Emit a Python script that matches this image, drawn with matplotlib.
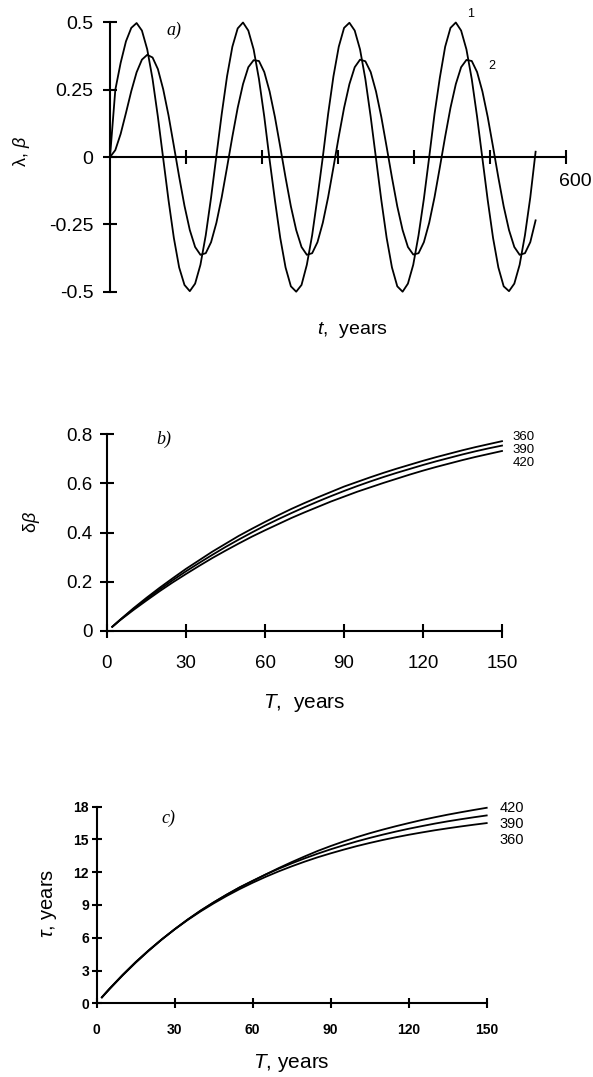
import numpy as np
import matplotlib.pyplot as plt

plt.rcParams['font.family'] = 'Liberation Sans'
plt.rcParams['axes.unicode_minus'] = False
plt.rcParams['mathtext.fontset'] = 'custom'
plt.rcParams['mathtext.it'] = 'Liberation Sans:italic'
plt.rcParams['mathtext.rm'] = 'Liberation Sans'

# ---- panel a: lambda (1) and beta (2) vs t, sampled every 7 years
t_a = np.arange(0, 561, 7)
lam = [0.0, 0.25, 0.35, 0.43, 0.48, 0.498, 0.47, 0.40, 0.29, 0.15,
       -0.005, -0.16, -0.30, -0.41, -0.475, -0.498, -0.47, -0.40, -0.29, -0.15,
       0.005, 0.16, 0.30, 0.41, 0.478, 0.50, 0.47, 0.40, 0.29, 0.15,
       -0.01, -0.16, -0.30, -0.41, -0.48, -0.50, -0.475, -0.40, -0.29, -0.15,
       0.0, 0.16, 0.30, 0.41, 0.48, 0.499, 0.47, 0.40, 0.29, 0.15,
       -0.005, -0.16, -0.30, -0.41, -0.48, -0.50, -0.47, -0.40, -0.29, -0.155,
       0.0, 0.16, 0.295, 0.41, 0.48, 0.50, 0.47, 0.40, 0.29, 0.15,
       -0.005, -0.16, -0.30, -0.41, -0.48, -0.498, -0.47, -0.40, -0.29, -0.15,
       0.02]
beta = [0.0, 0.026, 0.086, 0.164, 0.245, 0.315, 0.362, 0.380, 0.370, 0.327,
        0.252, 0.155, 0.042, -0.073, -0.181, -0.271, -0.334, -0.363, -0.357, -0.316,
        -0.244, -0.149, -0.038, 0.076, 0.183, 0.271, 0.334, 0.360, 0.357, 0.316,
        0.244, 0.149, 0.038, -0.076, -0.183, -0.271, -0.334, -0.363, -0.357, -0.316,
        -0.244, -0.149, -0.038, 0.076, 0.183, 0.271, 0.334, 0.362, 0.356, 0.316,
        0.244, 0.149, 0.038, -0.076, -0.183, -0.271, -0.334, -0.362, -0.357, -0.316,
        -0.244, -0.149, -0.038, 0.076, 0.183, 0.271, 0.334, 0.361, 0.357, 0.316,
        0.244, 0.149, 0.038, -0.076, -0.183, -0.271, -0.334, -0.363, -0.357, -0.316,
        -0.235]

# ---- panels b, c: curves for periods 360, 390, 420
T_bc = [2] + list(range(5, 151, 5))
db_360 = [0.016, 0.045, 0.091, 0.134, 0.175, 0.214, 0.252, 0.287, 0.322, 0.354, 0.386,
          0.415, 0.443, 0.470, 0.496, 0.520, 0.543, 0.565, 0.587, 0.606, 0.625,
          0.643, 0.660, 0.676, 0.692, 0.707, 0.721, 0.735, 0.748, 0.760, 0.772]
db_390 = [0.016, 0.044, 0.088, 0.129, 0.168, 0.206, 0.242, 0.276, 0.309, 0.341, 0.371,
          0.400, 0.428, 0.454, 0.479, 0.503, 0.526, 0.548, 0.569, 0.589, 0.608,
          0.626, 0.643, 0.659, 0.675, 0.690, 0.704, 0.718, 0.731, 0.743, 0.754]
db_420 = [0.016, 0.043, 0.084, 0.123, 0.161, 0.197, 0.231, 0.264, 0.296, 0.326, 0.355,
          0.383, 0.409, 0.434, 0.459, 0.482, 0.504, 0.526, 0.546, 0.566, 0.584,
          0.602, 0.619, 0.636, 0.652, 0.667, 0.681, 0.695, 0.708, 0.720, 0.732]

tau_360 = [0.56, 1.36, 2.61, 3.78, 4.85, 5.85, 6.77, 7.63, 8.42, 9.15, 9.83,
           10.46, 11.04, 11.58, 12.08, 12.54, 12.97, 13.37, 13.73, 14.07, 14.39,
           14.68, 14.95, 15.20, 15.43, 15.64, 15.84, 16.02, 16.19, 16.35, 16.50]
tau_390 = [0.55, 1.34, 2.59, 3.76, 4.84, 5.85, 6.79, 7.67, 8.48, 9.24, 9.95,
           10.61, 11.22, 11.79, 12.32, 12.81, 13.27, 13.70, 14.10, 14.47, 14.82,
           15.14, 15.44, 15.72, 15.98, 16.22, 16.45, 16.66, 16.85, 17.03, 17.20]
tau_420 = [0.54, 1.32, 2.56, 3.72, 4.81, 5.83, 6.78, 7.67, 8.50, 9.25, 9.95,
           10.62, 11.20, 11.80, 12.38, 12.93, 13.45, 13.95, 14.40, 14.82, 15.21,
           15.57, 15.90, 16.21, 16.50, 16.78, 17.03, 17.27, 17.49, 17.70, 17.90]

W, H = 593, 1077
fig = plt.figure(figsize=(W / 100, H / 100), dpi=100)


def box(l, r, top, bot):
    return [l / W, 1 - bot / H, (r - l) / W, (bot - top) / H]


def clean(ax):
    ax.spines['top'].set_visible(False)
    ax.spines['right'].set_visible(False)
    for s in ('left', 'bottom'):
        ax.spines[s].set_linewidth(1.5)
    ax.patch.set_alpha(0)


serif_it = dict(family='Liberation Serif', style='italic')
LW = 1.3

# ---- a)
ax1 = fig.add_axes(box(110, 566, 22.5, 291.7))
ax1.plot(t_a, lam, 'k', lw=LW, clip_on=False)
ax1.plot(t_a, beta, 'k', lw=LW, clip_on=False)
ax1.set_xlim(0, 600)
ax1.set_ylim(-0.5, 0.5)
clean(ax1)
ax1.spines['bottom'].set_position(('data', 0))
ax1.set_xticks([100, 200, 300, 400, 500, 600])
ax1.set_xticklabels([])
ax1.set_yticks([-0.5, -0.25, 0, 0.25, 0.5])
ax1.set_yticklabels(['-0.5', '-0.25', '0', '0.25', '0.5'])
ax1.tick_params(direction='inout', length=10, width=1.5, labelsize=14, pad=7)
ax1.text(612, -0.09, '600', fontsize=14, ha='center', va='center')
ax1.text(84, 0.47, 'a)', fontsize=13, ha='center', va='center', **serif_it)
ax1.text(474, 0.53, '1', fontsize=9, ha='center', va='center')
ax1.text(502, 0.34, '2', fontsize=9, ha='center', va='center')
fig.text(352 / W, 1 - 330 / H, '$t$,  years', fontsize=14, ha='center', va='center')
fig.text(21 / W, 1 - 152 / H, 'λ, $\\beta$', fontsize=13, ha='center', va='center',
         rotation=90)

# ---- b)
ax2 = fig.add_axes(box(107, 502, 434.3, 630.7))
for y in (db_360, db_390, db_420):
    ax2.plot(T_bc, y, 'k', lw=LW, clip_on=False)
ax2.set_xlim(0, 150)
ax2.set_ylim(0, 0.8)
clean(ax2)
ax2.set_xticks([0, 30, 60, 90, 120, 150])
ax2.set_yticks([0, 0.2, 0.4, 0.6, 0.8])
ax2.set_yticklabels(['0', '0.2', '0.4', '0.6', '0.8'])
ax2.tick_params(direction='inout', length=9.6, width=1.5, labelsize=13.5)
ax2.tick_params(axis='x', pad=13)
ax2.tick_params(axis='y', pad=5.5)
for lab, yy in (('360', 0.790), ('390', 0.736), ('420', 0.682)):
    ax2.text(153.9, yy, lab, fontsize=9.5, ha='left', va='center')
ax2.text(21.4, 0.78, 'b)', fontsize=13, ha='center', va='center', **serif_it)
fig.text(304 / W, 1 - 703 / H, '$T$,  years', fontsize=15, ha='center', va='center')
fig.text(32 / W, 1 - 522 / H, 'δ$\\beta$', fontsize=13, ha='center', va='center',
         rotation=90)

# ---- c)
ax3 = fig.add_axes(box(96.7, 486.7, 806.7, 1003.3))
for y in (tau_360, tau_390, tau_420):
    ax3.plot(T_bc, y, 'k', lw=LW, clip_on=False)
ax3.set_xlim(0, 150)
ax3.set_ylim(0, 18)
clean(ax3)
ax3.set_xticks([0, 30, 60, 90, 120, 150])
ax3.set_yticks([0, 3, 6, 9, 12, 15, 18])
ax3.tick_params(direction='inout', length=6.5, width=1.5, labelsize=10)
ax3.tick_params(axis='x', pad=11)
ax3.tick_params(axis='y', pad=2.3)
for lb in ax3.get_xticklabels() + ax3.get_yticklabels():
    lb.set_fontweight('bold')
for lab, yy in (('420', 17.85), ('390', 16.39), ('360', 14.95)):
    ax3.text(154.8, yy, lab, fontsize=10.5, ha='left', va='center')
ax3.text(27.5, 16.9, 'c)', fontsize=13, ha='center', va='center', **serif_it)
fig.text(291 / W, 1 - 1063 / H, '$T$, years', fontsize=15, ha='center', va='center')
fig.text(49 / W, 1 - 903 / H, '$\\tau$, years', fontsize=14.5, ha='center', va='center',
         rotation=90)

fig.savefig('out.png', dpi=100)
